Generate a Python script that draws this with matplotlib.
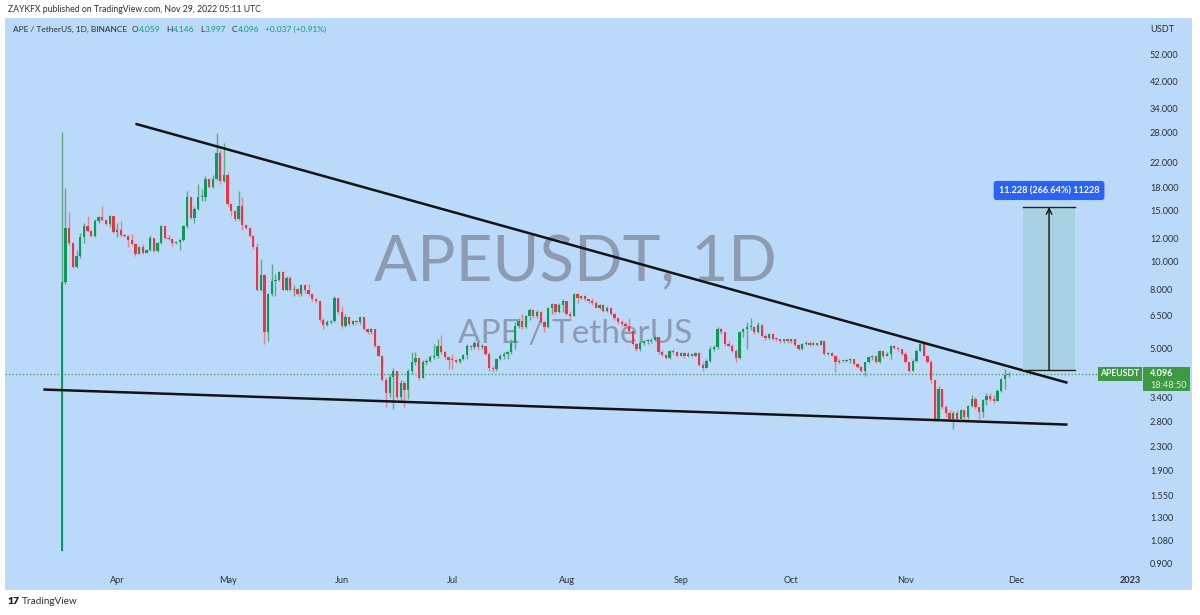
import datetime as dt
import matplotlib
matplotlib.use('Agg')
import matplotlib.pyplot as plt
import matplotlib.dates as mdates
import matplotlib.transforms as mtransforms
from matplotlib.patches import Rectangle
import numpy as np

plt.rcParams['font.family'] = ['Lato', 'DejaVu Sans']

# daily candles, first one on 2022-03-17, open of each = previous close
first_day = dt.date(2022, 3, 17)
first_open = 1.0
closes = [
    8.5, 13.1, 11.6, 9.6, 10.5, 12.2, 13.3, 12.8, 12.3, 13.8,
    14.3, 13.9, 13.5, 14.4, 12.7, 12.9, 12.4, 12.3, 11.9, 11.5,
    10.6, 11.2, 10.7, 11.0, 12.1, 10.9, 11.6, 13.3, 12.1, 12.0,
    11.6, 11.7, 11.9, 13.3, 16.7, 14.2, 15.2, 16.7, 16.8, 19.4,
    18.2, 19.4, 23.7, 19.0, 20.0, 15.8, 15.0, 14.0, 15.6, 13.4,
    13.1, 12.3, 11.2, 8.0, 9.0, 5.7, 7.7, 8.6, 8.65, 9.2,
    8.0, 8.8, 7.97, 8.05, 7.7, 8.3, 8.0, 7.7, 7.4, 7.3,
    6.3, 6.05, 6.2, 6.22, 7.5, 6.67, 6.0, 6.44, 6.08, 6.24,
    6.16, 6.44, 5.84, 5.7, 5.85, 5.1, 4.73, 3.88, 3.5, 4.0,
    4.2, 3.4, 3.8, 3.6, 4.2, 4.5, 4.65, 3.97, 4.48, 4.54,
    4.67, 4.73, 5.1, 4.85, 4.67, 4.58, 4.55, 4.5, 4.6, 4.75,
    5.1, 5.05, 5.25, 5.05, 5.1, 4.8, 4.3, 4.25, 4.6, 4.7,
    4.8, 4.85, 5.25, 6.0, 6.25, 5.95, 6.5, 6.8, 6.5, 6.7,
    6.2, 5.95, 6.9, 7.13, 6.67, 7.1, 7.31, 6.6, 6.5, 7.7,
    7.5, 7.6, 7.41, 7.31, 7.2, 6.94, 7.1, 6.76, 6.9, 6.59,
    6.38, 6.2, 6.1, 6.0, 5.76, 5.2, 4.98, 5.25, 5.3, 5.32,
    5.35, 5.47, 4.85, 4.75, 4.65, 4.92, 4.85, 4.73, 4.82, 4.7,
    4.8, 4.72, 4.82, 4.4, 4.3, 4.54, 5.0, 5.05, 5.84, 5.69,
    5.18, 5.11, 4.92, 4.65, 5.69, 5.84, 5.92, 5.95, 5.7, 6.05,
    5.55, 5.45, 5.6, 5.4, 5.38, 5.3, 5.38, 5.3, 5.38, 5.15,
    4.98, 5.2, 5.25, 5.15, 5.22, 5.15, 5.32, 4.79, 4.82, 4.73,
    4.48, 4.54, 4.52, 4.58, 4.61, 4.42, 4.31, 4.2, 4.48, 4.67,
    4.70, 4.48, 4.92, 4.7, 4.79, 5.11, 5.04, 4.98, 4.79, 4.48,
    4.2, 4.54, 4.92, 5.18, 4.73, 4.5, 3.88, 2.86, 3.63, 3.14,
    3.0, 2.86, 3.0, 2.86, 3.06, 2.9, 3.17, 3.36, 3.14, 3.01,
    3.31, 3.43, 3.36, 3.3, 3.58, 3.92, 4.059, 4.096,
]
highs = [
    28.0, 18.0, 14.9, 11.7, 11.0, 12.6, 13.6, 14.4, 12.9, 14.0,
    14.4, 15.6, 13.9, 14.5, 14.4, 13.6, 13.8, 12.5, 12.4, 12.5,
    11.6, 11.3, 11.5, 11.1, 12.4, 12.1, 11.7, 13.4, 13.4, 12.4,
    12.1, 11.8, 12.0, 13.4, 17.5, 16.8, 15.4, 18.5, 17.9, 19.8,
    19.5, 20.0, 27.8, 24.4, 25.7, 20.4, 15.9, 15.1, 17.6, 16.8,
    13.5, 13.2, 12.4, 11.6, 10.2, 9.1, 7.8, 9.8, 9.1, 9.3,
    9.3, 8.9, 8.9, 8.3, 8.1, 8.35, 8.4, 8.4, 7.8, 7.5,
    7.35, 6.4, 6.3, 6.3, 7.6, 7.5, 7.0, 6.6, 6.5, 6.3,
    6.3, 6.5, 6.45, 5.9, 5.9, 5.85, 5.15, 4.75, 3.95, 4.1,
    4.3, 4.2, 3.9, 3.85, 4.25, 4.85, 4.85, 4.45, 4.55, 4.6,
    4.75, 5.2, 5.4, 5.58, 4.9, 4.7, 4.8, 4.6, 4.65, 4.8,
    5.2, 5.15, 5.3, 5.25, 5.2, 5.1, 4.85, 4.35, 4.65, 4.8,
    4.85, 4.9, 5.4, 6.2, 6.4, 6.6, 6.55, 6.9, 6.85, 6.8,
    6.75, 6.25, 6.95, 7.22, 7.15, 7.2, 7.4, 7.3, 6.75, 7.8,
    7.8, 7.65, 7.65, 7.45, 7.5, 7.3, 7.15, 7.15, 7.0, 6.95,
    6.65, 6.4, 6.3, 6.2, 6.4, 5.8, 5.25, 5.3, 5.35, 5.4,
    5.45, 5.55, 5.5, 4.95, 4.8, 4.95, 5.0, 4.9, 4.88, 4.85,
    4.85, 4.82, 4.86, 4.85, 4.5, 4.6, 5.1, 5.15, 5.95, 5.9,
    5.72, 5.3, 5.2, 5.0, 5.75, 5.9, 6.2, 6.4, 6.0, 6.2,
    6.1, 5.6, 5.65, 5.65, 5.45, 5.42, 5.42, 5.4, 5.42, 5.4,
    5.2, 5.25, 5.3, 5.3, 5.28, 5.25, 5.35, 5.35, 4.85, 4.85,
    4.75, 4.6, 4.58, 4.62, 4.65, 4.62, 4.45, 4.35, 4.5, 4.7,
    4.75, 4.75, 4.95, 4.9, 4.85, 5.15, 5.15, 5.05, 5.0, 4.85,
    4.5, 4.6, 5.0, 5.25, 5.21, 4.75, 4.55, 3.9, 3.7, 3.6,
    3.2, 3.06, 3.05, 3.06, 3.1, 3.04, 3.2, 3.45, 3.4, 3.15,
    3.35, 3.5, 3.5, 3.45, 3.62, 3.95, 4.25, 4.146,
]
lows = [
    1.0, 8.4, 11.4, 9.5, 9.5, 10.3, 11.6, 12.7, 12.2, 12.2,
    13.6, 13.8, 13.4, 13.2, 12.6, 12.2, 12.2, 12.2, 11.2, 11.4,
    10.5, 10.6, 10.6, 10.7, 10.9, 10.8, 10.8, 11.5, 12.0, 11.9,
    11.3, 11.5, 11.0, 11.8, 13.1, 14.1, 13.6, 15.1, 16.2, 16.2,
    18.0, 18.0, 19.2, 18.5, 18.8, 15.6, 14.4, 13.8, 13.9, 12.9,
    13.0, 12.2, 11.1, 7.9, 7.9, 5.2, 5.3, 7.6, 7.6, 8.6,
    7.9, 7.9, 7.9, 7.6, 7.6, 7.6, 7.7, 7.6, 7.3, 7.2,
    6.2, 5.84, 6.0, 6.1, 6.2, 6.6, 5.9, 5.95, 6.0, 6.05,
    6.1, 6.1, 5.8, 5.6, 5.6, 5.05, 4.7, 3.85, 3.14, 3.4,
    3.09, 3.35, 3.3, 3.14, 3.35, 4.1, 4.4, 3.9, 3.95, 4.4,
    4.5, 4.6, 4.65, 4.8, 4.6, 4.25, 4.25, 4.45, 4.45, 4.55,
    4.6, 4.95, 5.0, 4.95, 5.0, 4.75, 4.2, 4.15, 4.2, 4.55,
    4.6, 4.6, 4.8, 5.0, 5.9, 5.85, 5.9, 6.3, 6.4, 6.4,
    6.1, 5.7, 5.9, 6.6, 6.6, 6.65, 6.7, 6.55, 6.4, 6.5,
    7.2, 7.4, 7.3, 7.2, 7.1, 6.9, 6.85, 6.7, 6.7, 6.55,
    6.3, 6.1, 6.0, 5.95, 5.7, 5.15, 4.9, 4.92, 5.15, 5.2,
    5.25, 5.3, 4.8, 4.7, 4.6, 4.6, 4.8, 4.7, 4.7, 4.65,
    4.68, 4.68, 4.7, 4.35, 4.2, 4.3, 4.5, 4.9, 5.0, 5.6,
    5.1, 5.05, 4.85, 4.5, 4.6, 5.5, 5.0, 5.8, 5.6, 5.65,
    5.5, 5.35, 5.4, 5.35, 5.3, 5.25, 5.25, 5.25, 5.25, 5.1,
    4.95, 4.95, 5.15, 5.1, 5.15, 5.1, 5.15, 4.75, 4.75, 4.7,
    4.14, 4.45, 4.48, 4.48, 4.45, 4.4, 4.28, 4.15, 4.03, 4.45,
    4.55, 4.45, 4.45, 4.65, 4.7, 4.6, 4.98, 4.9, 4.75, 4.45,
    4.15, 4.2, 4.5, 4.9, 4.7, 4.45, 3.8, 2.82, 2.85, 3.1,
    2.9, 2.82, 2.63, 2.82, 2.85, 2.85, 2.86, 3.15, 3.1, 2.86,
    2.9, 3.2, 3.3, 3.25, 3.3, 3.55, 3.63, 3.997,
]
last_price = 4.096

price_ticks = [52, 42, 34, 28, 22, 18, 15, 12, 10, 8, 6.5, 5, 3.4, 2.8, 2.3, 1.9, 1.55, 1.3, 1.08, 0.9]
month_dates = [dt.date(2022, 4, 1), dt.date(2022, 5, 1), dt.date(2022, 6, 1), dt.date(2022, 7, 1),
               dt.date(2022, 8, 1), dt.date(2022, 9, 1), dt.date(2022, 10, 1), dt.date(2022, 11, 1),
               dt.date(2022, 12, 1), dt.date(2023, 1, 1)]
month_labels = ['Apr', 'May', 'Jun', 'Jul', 'Aug', 'Sep', 'Oct', 'Nov', 'Dec', '2023']

# hand-drawn trend lines (date, price)
upper_line = [(dt.date(2022, 4, 6), 30.0), (dt.date(2022, 12, 15), 3.81)]
lower_line = [(dt.date(2022, 3, 12), 3.61), (dt.date(2022, 12, 15), 2.73)]

# measuring tool
measure_start = dt.date(2022, 12, 3)
measure_end = dt.date(2022, 12, 17)
measure_low = 4.211
measure_high = 15.439

bg = '#bbdaf9'
up_body, up_wick = '#0c9a5a', '#5ea882'
dn_body, dn_wick = '#f3323f', '#e5808d'
txt = '#2a2e39'
val_green = '#089981'
tag_green = '#3d9a40'
ui_size = 6.6

W, H = 1200, 615
fig = plt.figure(figsize=(W / 100, H / 100), dpi=100)
fig.patch.set_facecolor('white')


def fx(px):
    return px / W


def fy(py):
    return 1 - py / H


fig.patches.append(Rectangle((fx(5), fy(590)), fx(1192) - fx(5), fy(18) - fy(590),
                             transform=fig.transFigure, facecolor=bg, edgecolor='none', zorder=-5))
# price box on the scale (sits right of the axes, below the axes texts)
fig.patches.append(Rectangle((fx(1143), fy(391)), fx(1190) - fx(1143), fy(367) - fy(391),
                             transform=fig.transFigure, facecolor=tag_green, edgecolor='none', zorder=-1))

ax = fig.add_axes([fx(5), fy(570), fx(1143) - fx(5), fy(20) - fy(570)])
ax.set_facecolor(bg)
ax.set_yscale('log')
ax.set_xlim(dt.datetime(2022, 3, 1, 14), dt.datetime(2023, 1, 4, 12))
ax.set_ylim(0.857, 68.6)
for s in ax.spines.values():
    s.set_visible(False)

# candles
n = len(closes)
days = [first_day + dt.timedelta(days=i) for i in range(n)]
xs = mdates.date2num(days)
c = np.array(closes)
o = np.concatenate([[first_open], c[:-1]])
hi = np.maximum(np.array(highs), np.maximum(o, c))
lo = np.minimum(np.array(lows), np.minimum(o, c))
up = c >= o
bot = np.minimum(o, c)
top = np.maximum(np.maximum(o, c), bot * 1.008)

ax.vlines(xs[up], lo[up], hi[up], color=up_wick, lw=1, zorder=2)
ax.vlines(xs[~up], lo[~up], hi[~up], color=dn_wick, lw=1, zorder=2)
ax.bar(xs[up], (top - bot)[up], bottom=bot[up], width=0.62, color=up_body, zorder=2.5, linewidth=0)
ax.bar(xs[~up], (top - bot)[~up], bottom=bot[~up], width=0.62, color=dn_body, zorder=2.5, linewidth=0)

# watermark
ax.text(0.5009, 0.558, 'APEUSDT, 1D', transform=ax.transAxes, ha='center', va='center',
        fontsize=46, color='#8d9bb0', zorder=0.5)
ax.text(0.5009, 0.4293, 'APE / TetherUS', transform=ax.transAxes, ha='center', va='center',
        fontsize=24, color='#8d9bb0', zorder=0.5)

# trend lines
for line in (upper_line, lower_line):
    ax.plot([line[0][0], line[1][0]], [line[0][1], line[1][1]], color='#131313', lw=1.8,
            solid_capstyle='butt', zorder=3)

# last price dotted line
blend = mtransforms.blended_transform_factory(ax.transAxes, ax.transData)
ax.plot([0, 0.9605], [last_price, last_price], transform=blend, color='#4f9e6e', lw=1,
        ls=(0, (1, 1.5)), zorder=1.5)

# measuring box
m0, m1 = mdates.date2num(measure_start), mdates.date2num(measure_end)
ax.add_patch(Rectangle((m0, measure_low), m1 - m0, measure_high - measure_low,
                       facecolor='#a8d2e2', edgecolor='none', zorder=3.5))
ax.plot([m0, m1], [measure_high, measure_high], color='#222222', lw=1, zorder=3.6)
ax.plot([m0, m1], [measure_low, measure_low], color='#222222', lw=1, zorder=3.6)
mid = (m0 + m1) / 2
ax.annotate('', xy=(mid, measure_high), xytext=(mid, measure_low),
            arrowprops=dict(arrowstyle='->', color='#111111', lw=1, shrinkA=0, shrinkB=0,
                            mutation_scale=10), zorder=3.7)
diff = measure_high - measure_low
ax.annotate(f'{diff:.3f} ({diff / measure_low * 100:.2f}%) {diff * 1000:.0f}',
            xy=(mid, measure_high), xytext=(0, 12), textcoords='offset points',
            ha='center', va='center', fontsize=ui_size, color='white', fontweight='bold',
            bbox=dict(boxstyle='round,pad=0.55,rounding_size=0.3', fc='#2962ff', ec='none'),
            zorder=5)

# price tags
ax.annotate('APEUSDT', xy=(0.9625, last_price), xycoords=blend, ha='left', va='center',
            fontsize=6.2, color='white', fontweight='bold',
            bbox=dict(boxstyle='square,pad=0.3', fc=tag_green, ec='none'), zorder=6,
            annotation_clip=False)
ax.annotate(f'{last_price:.3f}', xy=(1.0, last_price), xycoords=blend, xytext=(5, 0),
            textcoords='offset points', ha='left', va='center', fontsize=ui_size, color='white',
            fontweight='bold', zorder=7, annotation_clip=False)
ax.annotate('18:48:50', xy=(1.0, last_price), xycoords=blend, xytext=(5, -8.5),
            textcoords='offset points', ha='left', va='center', fontsize=ui_size, color='#dff0df',
            zorder=7, annotation_clip=False)

# axes ticks
ax.yaxis.tick_right()
ax.set_yticks(price_ticks)
ax.set_yticklabels([f'{p:.3f}' for p in price_ticks])
ax.yaxis.set_minor_locator(matplotlib.ticker.NullLocator())
ax.set_xticks(mdates.date2num(month_dates))
ax.set_xticklabels(month_labels)
ax.tick_params(axis='both', length=0, labelsize=ui_size, labelcolor=txt)
ax.tick_params(axis='y', pad=5)
ax.tick_params(axis='x', pad=4)
ax.get_xticklabels()[-1].set_fontweight('bold')

# header / footer
fig.text(fx(8), fy(9), 'ZAYKFX published on TradingView.com, Nov 29, 2022 05:11 UTC',
         fontsize=6.2, color=txt, va='center')

# legend row, pieces laid out one after another
renderer = fig.canvas.get_renderer()
legend_parts = [('APE / TetherUS, 1D, BINANCE', txt, 5), ('O', txt, 0), ('4.059', val_green, 6),
                ('H', txt, 0), ('4.146', val_green, 6), ('L', txt, 0), ('3.997', val_green, 6),
                ('C', txt, 0), ('4.096', val_green, 6), ('+0.037 (+0.91%)', val_green, 0)]
cursor = 13
for s, col, gap in legend_parts:
    t = fig.text(fx(cursor), fy(29), s, fontsize=6.0, color=col, va='center')
    cursor += t.get_window_extent(renderer).width + gap

fig.text(fx(1150), fy(29), 'USDT', fontsize=ui_size, color=txt, va='center')
fig.text(fx(7), fy(602), '17', fontsize=7.5, color='#131722', va='center', fontweight='heavy')
fig.text(fx(22), fy(602), 'TradingView', fontsize=7.2, color=txt, va='center')

fig.savefig('out.png', dpi=100, facecolor='white')
